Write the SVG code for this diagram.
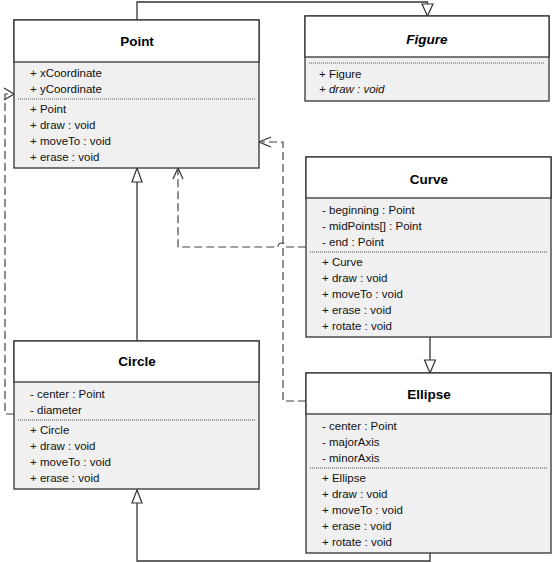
<svg xmlns="http://www.w3.org/2000/svg" width="553" height="563" viewBox="0 0 553 563">
  <style>
    .box { fill: #f0f0f0; stroke: #333333; stroke-width: 1.3; }
    .head { fill: #ffffff; stroke: #333333; stroke-width: 1.3; }
    .sep { stroke: #555555; stroke-width: 1; stroke-dasharray: 1 1; }
    .title { font-family: "Liberation Sans", Arial, sans-serif; font-size: 13.5px; font-weight: bold; text-anchor: middle; fill: #000; }
    .item { font-family: "Liberation Sans", Arial, sans-serif; font-size: 11.5px; fill: #111; }
    .it { font-style: italic; }
    .solid { fill: none; stroke: #333333; stroke-width: 1.3; }
    .dash { fill: none; stroke: #444444; stroke-width: 1.2; stroke-dasharray: 8 4; }
    .tri { fill: #ffffff; stroke: #333333; stroke-width: 1.2; }
    .open { fill: none; stroke: #333333; stroke-width: 1.2; }
  </style>

  <g id="connectors">
    <!-- Point generalizes Figure -->
    <path class="solid" d="M137 20 V2 H427.5 V4"/>
    <path class="tri" d="M422 4 H433 L427.5 16 Z"/>
    <!-- Circle generalizes Point -->
    <path class="solid" d="M137 341 V182"/>
    <path class="tri" d="M132 182 H142 L137 168 Z"/>
    <!-- Ellipse generalizes Curve -->
    <path class="solid" d="M430 337 V360"/>
    <path class="tri" d="M424.5 360 H435.5 L430 373 Z"/>
    <!-- Ellipse generalizes Circle -->
    <path class="solid" d="M430 553 V561 H137 V503"/>
    <path class="tri" d="M132 503 H142 L137 490 Z"/>
    <!-- Circle depends on Point -->
    <path class="dash" d="M14 414 H5 V94 H12"/>
    <path class="open" d="M4 88 L14 94 L4 100"/>
    <!-- Curve depends on Point -->
    <path class="dash" d="M306 247 H286 A4 4 0 0 0 278 247 H178 V170"/>
    <path class="open" d="M173 179 L178 168 L183 179"/>
    <!-- Ellipse depends on Point -->
    <path class="dash" d="M306 401 H283 V142 H262"/>
    <path class="open" d="M271 137 L259 142 L271 147"/>
  </g>

  <g id="point">
    <rect class="box" x="14" y="20" width="245" height="148"/>
    <rect class="head" x="14" y="20" width="245" height="42"/>
    <text class="title" x="137" y="46">Point</text>
    <text class="item" x="30" y="77">+ xCoordinate</text>
    <text class="item" x="30" y="93">+ yCoordinate</text>
    <line class="sep" x1="18" y1="99" x2="255" y2="99"/>
    <text class="item" x="30" y="113">+ Point</text>
    <text class="item" x="30" y="129">+ draw : void</text>
    <text class="item" x="30" y="145">+ moveTo : void</text>
    <text class="item" x="30" y="161">+ erase : void</text>
  </g>

  <g id="figure">
    <rect class="box" x="305" y="16" width="244" height="85"/>
    <rect class="head" x="305" y="16" width="244" height="41"/>
    <text class="title it" x="427" y="44">Figure</text>
    <line class="sep" x1="309" y1="63" x2="545" y2="63"/>
    <text class="item" x="319" y="78">+ Figure</text>
    <text class="item it" x="319" y="93">+ draw : void</text>
  </g>

  <g id="curve">
    <rect class="box" x="306" y="157" width="245" height="180"/>
    <rect class="head" x="306" y="157" width="245" height="41"/>
    <text class="title" x="429" y="184">Curve</text>
    <text class="item" x="322" y="214">- beginning : Point</text>
    <text class="item" x="322" y="230">- midPoints[] : Point</text>
    <text class="item" x="322" y="246">- end : Point</text>
    <line class="sep" x1="310" y1="252" x2="547" y2="252"/>
    <text class="item" x="322" y="266">+ Curve</text>
    <text class="item" x="322" y="282">+ draw : void</text>
    <text class="item" x="322" y="298">+ moveTo : void</text>
    <text class="item" x="322" y="314">+ erase : void</text>
    <text class="item" x="322" y="330">+ rotate : void</text>
  </g>

  <g id="circle">
    <rect class="box" x="14" y="341" width="245" height="148"/>
    <rect class="head" x="14" y="341" width="245" height="41"/>
    <text class="title" x="137" y="366">Circle</text>
    <text class="item" x="30" y="398">- center : Point</text>
    <text class="item" x="30" y="414">- diameter</text>
    <line class="sep" x1="18" y1="420" x2="255" y2="420"/>
    <text class="item" x="30" y="434">+ Circle</text>
    <text class="item" x="30" y="450">+ draw : void</text>
    <text class="item" x="30" y="466">+ moveTo : void</text>
    <text class="item" x="30" y="482">+ erase : void</text>
  </g>

  <g id="ellipse">
    <rect class="box" x="306" y="373" width="245" height="180"/>
    <rect class="head" x="306" y="373" width="245" height="41"/>
    <text class="title" x="429" y="399">Ellipse</text>
    <text class="item" x="322" y="430">- center : Point</text>
    <text class="item" x="322" y="446">- majorAxis</text>
    <text class="item" x="322" y="462">- minorAxis</text>
    <line class="sep" x1="310" y1="468" x2="547" y2="468"/>
    <text class="item" x="322" y="482">+ Ellipse</text>
    <text class="item" x="322" y="498">+ draw : void</text>
    <text class="item" x="322" y="514">+ moveTo : void</text>
    <text class="item" x="322" y="530">+ erase : void</text>
    <text class="item" x="322" y="546">+ rotate : void</text>
  </g>
</svg>
